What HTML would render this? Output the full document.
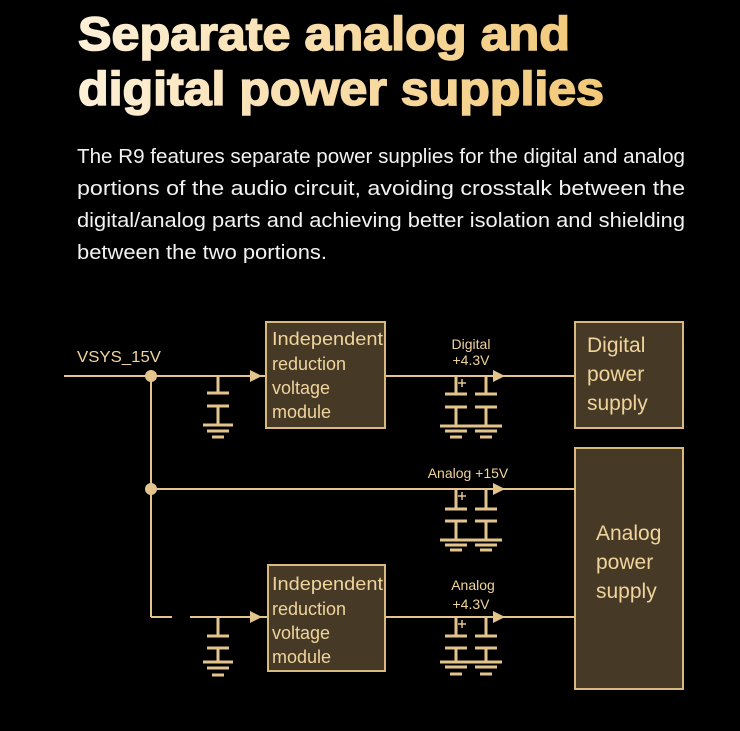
<!DOCTYPE html>
<html><head><meta charset="utf-8"><style>
html,body{margin:0;padding:0;background:#000;}
svg{display:block;}
</style></head><body>
<svg width="740" height="731" viewBox="0 0 740 731" xmlns="http://www.w3.org/2000/svg">
<defs>
<linearGradient id="tg" x1="78" x2="605" y1="0" y2="0" gradientUnits="userSpaceOnUse">
<stop offset="0" stop-color="#fdf0d8"/><stop offset="1" stop-color="#f2c877"/>
</linearGradient>
</defs>
<rect width="740" height="731" fill="#000"/>
<g font-family="Liberation Sans, sans-serif" font-weight="bold" font-size="47" fill="url(#tg)" stroke="url(#tg)" stroke-width="1.6">
<text x="78" y="50" textLength="492" lengthAdjust="spacingAndGlyphs">Separate analog and</text>
<text x="78" y="105" textLength="526" lengthAdjust="spacingAndGlyphs">digital power supplies</text>
</g>
<g font-family="Liberation Sans, sans-serif" font-size="20" fill="#f2f2f2">
<text x="77" y="163" textLength="608" lengthAdjust="spacingAndGlyphs">The R9 features separate power supplies for the digital and analog</text>
<text x="77" y="195" textLength="608" lengthAdjust="spacingAndGlyphs">portions of the audio circuit, avoiding crosstalk between the</text>
<text x="77" y="227" textLength="608" lengthAdjust="spacingAndGlyphs">digital/analog parts and achieving better isolation and shielding</text>
<text x="77" y="259" textLength="250" lengthAdjust="spacingAndGlyphs">between the two portions.</text>
</g>
<g stroke="#e3c48c" stroke-width="2" fill="none">
<line x1="64" y1="376" x2="266" y2="376"/>
<line x1="151" y1="376" x2="151" y2="617"/>
<line x1="151" y1="617" x2="172" y2="617"/>
<line x1="190" y1="617" x2="268" y2="617"/>
<line x1="151" y1="489" x2="575" y2="489"/>
<line x1="385" y1="376" x2="575" y2="376"/>
<line x1="385" y1="617" x2="575" y2="617"/>
</g>
<g fill="#e3c48c">
<circle cx="151" cy="376" r="6"/><circle cx="151" cy="489" r="6"/>
<polygon points="250,370 262,376 250,382"/>
<polygon points="250,611 262,617 250,623"/>
<polygon points="493,370 505,376 493,382"/>
<polygon points="493,483 505,489 493,495"/>
<polygon points="493,611 505,617 493,623"/>
</g>
<g stroke="#e3c48c" stroke-width="3" fill="none">
<path d="M218 376V393M207 393H229M207 406H229M218 406V425M203 425H233M207 431H229M212 437H224"/>
<path d="M218 617V636M207 636H229M207 648H229M218 648V662M203 662H233M207 668H229M212 675H224"/>
<path d="M456 376V394M445 394H467M445 407H467M456 407V426M486 376V394M475 394H497M475 407H497M486 407V426M440 426H502M445 431H467M475 431H497M450 437H462M480 437H492"/>
<path d="M456 489V509M445 509H467M445 521H467M456 521V540M486 489V509M475 509H497M475 521H497M486 521V540M440 540H502M445 545H467M475 545H497M450 550H462M480 550H492"/>
<path d="M456 617V636M445 636H467M445 648H467M456 648V662M486 617V636M475 636H497M475 648H497M486 648V662M440 662H502M445 667H467M475 667H497M450 674H462M480 674H492"/>
</g>
<g stroke="#e3c48c" stroke-width="1.5">
<path d="M462 379V387M458 383H466M462 492V500M458 496H466M462 620V628M458 624H466"/>
</g>
<g fill="#463926" stroke="#d8b97f" stroke-width="2">
<rect x="266" y="322" width="119" height="106"/>
<rect x="268" y="565" width="117" height="106"/>
<rect x="575" y="322" width="108" height="106"/>
<rect x="575" y="448" width="108" height="241"/>
</g>
<g font-family="Liberation Sans, sans-serif" fill="#f0d49c">
<text x="77" y="362" font-size="16" textLength="84" lengthAdjust="spacingAndGlyphs">VSYS_15V</text>
<g font-size="18">
<text x="272" y="345" textLength="111" lengthAdjust="spacingAndGlyphs">Independent</text>
<text x="272" y="370">reduction</text>
<text x="272" y="394">voltage</text>
<text x="272" y="418">module</text>
<text x="272" y="590" textLength="111" lengthAdjust="spacingAndGlyphs">Independent</text>
<text x="272" y="615">reduction</text>
<text x="272" y="639">voltage</text>
<text x="272" y="663">module</text>
</g>
<g font-size="14" text-anchor="middle">
<text x="471" y="349">Digital</text>
<text x="471" y="365">+4.3V</text>
<text x="468" y="478">Analog +15V</text>
<text x="473" y="590">Analog</text>
<text x="471" y="609">+4.3V</text>
</g>
<g font-size="21">
<text x="587" y="352">Digital</text>
<text x="587" y="381">power</text>
<text x="587" y="410">supply</text>
<text x="596" y="540">Analog</text>
<text x="596" y="569">power</text>
<text x="596" y="598">supply</text>
</g>
</g>
</svg>
</body></html>
